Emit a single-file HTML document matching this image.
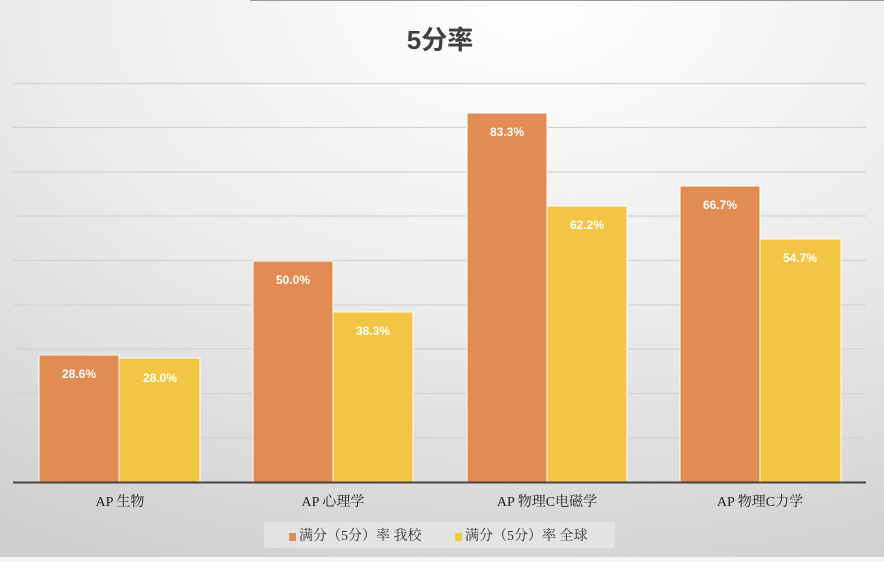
<!DOCTYPE html>
<html><head><meta charset="utf-8"><style>
body{margin:0;width:884px;height:562px;overflow:hidden;font-family:"Liberation Sans","Noto Sans CJK SC",sans-serif}
</style></head><body>
<svg width="884" height="562" xmlns="http://www.w3.org/2000/svg">
<defs>
<radialGradient id="bg" cx="0.6" cy="0" r="1.1">
<stop offset="0" stop-color="#ffffff"/><stop offset="0.5" stop-color="#ececec"/><stop offset="1" stop-color="#cfcfcf"/>
</radialGradient>
</defs>
<rect width="884" height="562" fill="url(#bg)"/>
<line x1="250" y1="0.5" x2="884" y2="0.5" stroke="#999" stroke-width="1"/>
<rect x="0" y="557" width="884" height="5" fill="#f4f4f4"/>
<text x="440" y="49" font-size="26" font-weight="bold" fill="#404040" text-anchor="middle" font-family="Liberation Sans,'Noto Sans CJK SC',sans-serif">5分率</text>
<g stroke="#d2d2d2" stroke-width="1.2">
<line x1="13" y1="83.5" x2="866" y2="83.5"/><line x1="13" y1="127.5" x2="866" y2="127.5"/>
<line x1="13" y1="172" x2="866" y2="172"/><line x1="13" y1="216" x2="866" y2="216"/>
<line x1="13" y1="260.5" x2="866" y2="260.5"/><line x1="13" y1="305" x2="866" y2="305"/>
<line x1="13" y1="349" x2="866" y2="349"/><line x1="13" y1="393.5" x2="866" y2="393.5"/>
<line x1="13" y1="438" x2="866" y2="438"/>
</g>
<g stroke="#fff" stroke-width="1">
<rect x="39" y="355" width="80" height="127" fill="#e08c52"/>
<rect x="119" y="358" width="81" height="124" fill="#f2c544"/>
<rect x="253" y="261" width="80" height="221" fill="#e08c52"/>
<rect x="333" y="312" width="80" height="170" fill="#f2c544"/>
<rect x="467" y="113" width="80" height="369" fill="#e08c52"/>
<rect x="547" y="206" width="80" height="276" fill="#f2c544"/>
<rect x="680" y="186" width="80" height="296" fill="#e08c52"/>
<rect x="760" y="239" width="81" height="243" fill="#f2c544"/>
</g>
<g fill="#fff" font-size="12" font-weight="bold" text-anchor="middle">
<text x="79" y="378">28.6%</text><text x="160" y="382">28.0%</text>
<text x="293" y="284">50.0%</text><text x="373" y="335">38.3%</text>
<text x="507" y="136">83.3%</text><text x="587" y="229">62.2%</text>
<text x="720" y="209">66.7%</text><text x="800" y="262">54.7%</text>
</g>
<line x1="13" y1="482.5" x2="866" y2="482.5" stroke="#444" stroke-width="2"/>
<g font-size="14" fill="#222" text-anchor="middle" font-family="Liberation Serif,'Noto Serif CJK SC',serif">
<text x="120" y="506">AP 生物</text><text x="333" y="506">AP 心理学</text>
<text x="547" y="506">AP 物理C电磁学</text><text x="760" y="506">AP 物理C力学</text>
</g>
<rect x="264" y="522" width="351" height="26" fill="#e3e3e3"/>
<rect x="289" y="533" width="7" height="8" fill="#e08c52"/>
<text x="299" y="540" font-size="14" fill="#333" font-family="Liberation Serif,'Noto Serif CJK SC',serif">满分（5分）率 我校</text>
<rect x="455" y="533" width="7" height="8" fill="#f2c544"/>
<text x="465" y="540" font-size="14" fill="#333" font-family="Liberation Serif,'Noto Serif CJK SC',serif">满分（5分）率 全球</text>
</svg>
</body></html>
